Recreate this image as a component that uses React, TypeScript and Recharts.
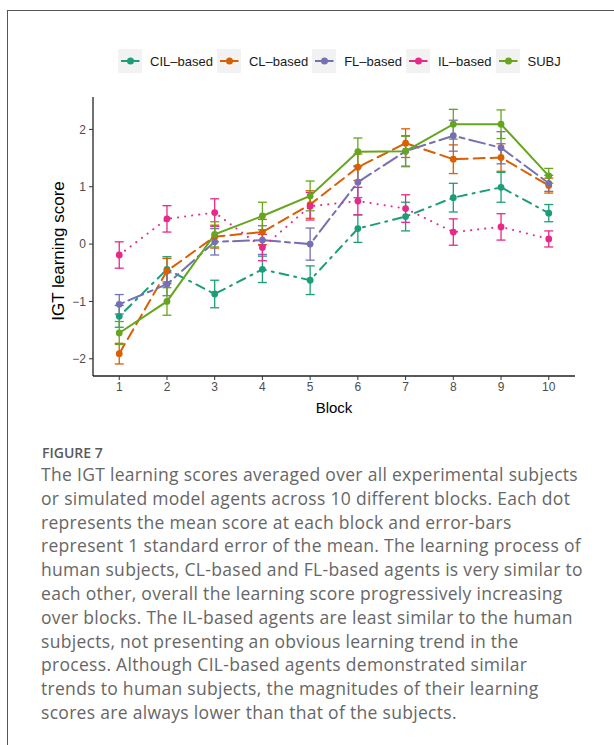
import React from "react";
import {
  ComposedChart,
  Line,
  ErrorBar,
  XAxis,
  YAxis,
} from "recharts";

const blocks = [1, 2, 3, 4, 5, 6, 7, 8, 9, 10];

const cilScore = [-1.26, -0.44, -0.87, -0.44, -0.63, 0.27, 0.48, 0.81, 0.99, 0.54];
const cilSe = [0.19, 0.22, 0.24, 0.23, 0.25, 0.24, 0.25, 0.25, 0.26, 0.15];
const clScore = [-1.91, -0.47, 0.13, 0.21, 0.69, 1.34, 1.76, 1.48, 1.51, 1.02];
const clSe = [0.18, 0.22, 0.2, 0.22, 0.24, 0.23, 0.25, 0.25, 0.24, 0.13];
const flScore = [-1.05, -0.7, 0.04, 0.07, 0.0, 1.08, 1.62, 1.89, 1.68, 1.06];
const flSe = [0.17, 0.2, 0.23, 0.25, 0.28, 0.27, 0.27, 0.27, 0.28, 0.14];
const ilScore = [-0.19, 0.44, 0.55, -0.06, 0.66, 0.75, 0.62, 0.21, 0.3, 0.09];
const ilSe = [0.23, 0.23, 0.24, 0.23, 0.24, 0.24, 0.24, 0.23, 0.23, 0.14];
const subjScore = [-1.55, -1.0, 0.17, 0.49, 0.84, 1.61, 1.62, 2.09, 2.09, 1.19];
const subjSe = [0.2, 0.24, 0.22, 0.24, 0.26, 0.24, 0.26, 0.26, 0.25, 0.13];

const yTicks = [-2, -1, 0, 1, 2];

const captionLines = [
  "The IGT learning scores averaged over all experimental subjects",
  "or simulated model agents across 10 different blocks. Each dot",
  "represents the mean score at each block and error-bars",
  "represent 1 standard error of the mean. The learning process of",
  "human subjects, CL-based and FL-based agents is very similar to",
  "each other, overall the learning score progressively increasing",
  "over blocks. The IL-based agents are least similar to the human",
  "subjects, not presenting an obvious learning trend in the",
  "process. Although CIL-based agents demonstrated similar",
  "trends to human subjects, the magnitudes of their learning",
  "scores are always lower than that of the subjects.",
];

// key, label, colour, dash pattern
const series = [
  { key: "CIL", name: "CIL\u2013based", color: "#1B9E77", dash: "2 6 9 6", values: cilScore, se: cilSe },
  { key: "CL", name: "CL\u2013based", color: "#D95F02", dash: "11 6", values: clScore, se: clSe },
  { key: "FL", name: "FL\u2013based", color: "#7570B3", dash: "5 5 16 5", values: flScore, se: flSe },
  { key: "IL", name: "IL\u2013based", color: "#E7298A", dash: "0.1 7", values: ilScore, se: ilSe },
  { key: "SUBJ", name: "SUBJ", color: "#66A61E", dash: undefined, values: subjScore, se: subjSe },
];

const data = blocks.map((b, i) => {
  const row: any = { block: b };
  series.forEach((s) => {
    row[s.key] = s.values[i];
    row[s.key + "_se"] = s.se[i];
  });
  return row;
});

const sans = "'Liberation Sans', Arial, Helvetica, sans-serif";

export default function App() {
  return (
    <div style={{ position: "absolute", left: 0, top: 0, width: 614, height: 745, background: "#fff", overflow: "hidden" }}>
      <div
        style={{
          position: "absolute",
          left: 7,
          top: 10,
          width: 620,
          height: 750,
          borderLeft: "1px solid #555",
          borderTop: "1px solid #555",
        }}
      />

      {/* legend */}
      <div
        style={{
          position: "absolute",
          left: 118,
          top: 49,
          height: 24,
          display: "flex",
          alignItems: "center",
          fontFamily: sans,
          fontSize: 13,
          color: "#1a1a1a",
        }}
      >
        {series.map((s) => (
          <div key={s.key} style={{ display: "flex", alignItems: "center" }}>
            <svg width={24} height={24} style={{ background: "#F2F2F2" }}>
              <line x1={3} x2={21.5} y1={12} y2={12} stroke={s.color} strokeWidth={2} />
              <circle cx={12.5} cy={12} r={3.5} fill={s.color} />
            </svg>
            <span style={{ marginLeft: 8, marginRight: 4, whiteSpace: "nowrap" }}>{s.name}</span>
          </div>
        ))}
      </div>

      <div style={{ position: "absolute", left: 0, top: 0 }}>
        <ComposedChart
          width={614}
          height={430}
          data={data}
          margin={{ top: 97, right: 39, bottom: 24, left: 33 }}
          style={{ fontFamily: sans }}
        >
          <XAxis
            dataKey="block"
            type="number"
            domain={[0.45, 10.55]}
            ticks={blocks}
            allowDataOverflow
            height={30}
            axisLine={{ stroke: "#222", strokeWidth: 1.3 }}
            tickLine={{ stroke: "#333", strokeWidth: 1 }}
            tickSize={4}
            tickMargin={2}
            tick={{ fill: "#4D4D4D", fontSize: 12 }}
          />
          <YAxis
            type="number"
            domain={[-2.3, 2.565]}
            ticks={yTicks}
            allowDataOverflow
            width={60}
            axisLine={{ stroke: "#222", strokeWidth: 1.3 }}
            tickLine={{ stroke: "#333", strokeWidth: 1 }}
            tickSize={4}
            tickMargin={3}
            tick={{ fill: "#4D4D4D", fontSize: 12 }}
            tickFormatter={(v: number) => (v < 0 ? "\u2212" + Math.abs(v) : String(v))}
          />
          {series.map((s) => (
            <Line
              key={s.key}
              dataKey={s.key}
              type="linear"
              stroke={s.color}
              strokeWidth={2}
              strokeDasharray={s.dash}
              strokeLinecap="round"
              dot={{ r: 3.4, fill: s.color, stroke: "none", strokeDasharray: undefined }}
              activeDot={false}
              isAnimationActive={false}
            >
              <ErrorBar
                dataKey={s.key + "_se"}
                direction="y"
                width={4.5}
                stroke={s.color}
                strokeWidth={1.3}
                isAnimationActive={false}
              />
            </Line>
          ))}
        </ComposedChart>
      </div>

      {/* axis titles */}
      <div
        style={{
          position: "absolute",
          left: 59,
          top: 251,
          transform: "translate(-50%, -50%) rotate(-90deg)",
          whiteSpace: "nowrap",
          fontFamily: sans,
          fontSize: 17,
          color: "#000",
        }}
      >
        IGT learning score
      </div>
      <div
        style={{
          position: "absolute",
          left: 334,
          top: 407,
          transform: "translate(-50%, -50%)",
          whiteSpace: "nowrap",
          fontFamily: sans,
          fontSize: 15,
          color: "#000",
        }}
      >
        Block
      </div>

      {/* caption */}
      <div
        style={{
          position: "absolute",
          left: 42,
          top: 443,
          fontFamily: "'Open Sans', sans-serif",
          fontSize: 14,
          fontWeight: 600,
          color: "#5a5a5a",
        }}
      >
        FIGURE 7
      </div>
      <div
        style={{
          position: "absolute",
          left: 41,
          top: 463,
          fontFamily: "'Open Sans', sans-serif",
          fontSize: 17.5,
          letterSpacing: 0.3,
          lineHeight: "23.8px",
          color: "#666",
          whiteSpace: "nowrap",
        }}
      >
        {captionLines.map((l, i) => (
          <div key={i}>{l}</div>
        ))}
      </div>
    </div>
  );
}
